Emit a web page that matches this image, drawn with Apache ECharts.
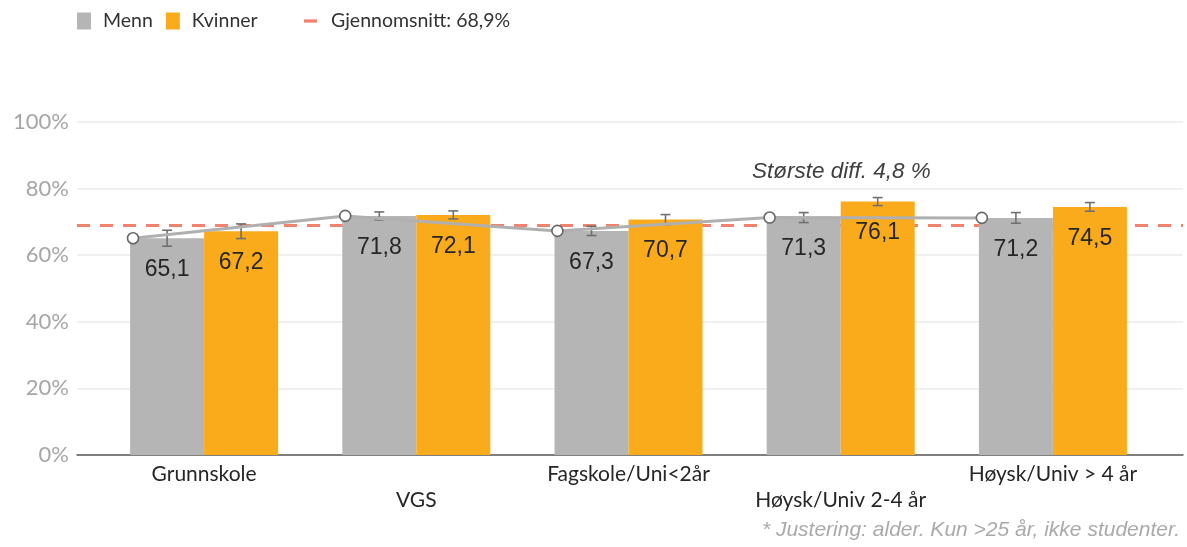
<!DOCTYPE html>
<html>
<head>
<meta charset="utf-8">
<script src="https://cdn.jsdelivr.net/npm/echarts@6/dist/echarts.min.js"></script>
<style>
  html, body { margin: 0; padding: 0; background: #fff; }
  #chart { width: 1187px; height: 547px; }
</style>
</head>
<body>
<div id="chart"></div>
<script>
(function() {
  var categories = ['Grunnskole', 'VGS', 'Fagskole/Uni<2år', 'Høysk/Univ 2-4 år', 'Høysk/Univ > 4 år'];
  var menn = [65.1, 71.8, 67.3, 71.3, 71.2];
  var kvinner = [67.2, 72.1, 70.7, 76.1, 74.5];
  var mennErr = [2.4, 1.2, 1.4, 1.5, 1.6];
  var kvinnerErr = [2.2, 1.2, 1.5, 1.2, 1.3];
  var snitt = 68.9;
  var yTicks = [0, 20, 40, 60, 80, 100];

  var grey = '#b5b5b5';
  var orange = '#faab1c';
  var salmon = '#f0826e';
  var ink = '#262626';
  var muted = '#a6a6a6';
  var barW = 74;
  var lineOffset = -0.335;

  function fmt(v) { return String(v).replace('.', ','); }

  function errData(vals, errs) {
    return vals.map(function(v, i) { return [i, v - errs[i], v + errs[i]]; });
  }

  function errRender(shift) {
    return function(params, api) {
      var hi = api.coord([api.value(0), api.value(2)]);
      var lo = api.coord([api.value(0), api.value(1)]);
      var x = hi[0] + shift;
      var st = { stroke: '#707070', lineWidth: 1.6 };
      return {
        type: 'group',
        children: [
          { type: 'line', shape: { x1: x, y1: hi[1], x2: x, y2: lo[1] }, style: st },
          { type: 'line', shape: { x1: x - 5, y1: hi[1], x2: x + 5, y2: hi[1] }, style: st },
          { type: 'line', shape: { x1: x - 5, y1: lo[1], x2: x + 5, y2: lo[1] }, style: st }
        ]
      };
    };
  }

  var barLabel = {
    show: true, position: 'insideTop', distance: 20,
    fontFamily: 'Liberation Sans', fontSize: 23, color: ink,
    formatter: function(p) { return fmt(p.value); }
  };

  var chart = echarts.init(document.getElementById('chart'), null, { renderer: 'canvas' });
  chart.setOption({
    animation: false,
    legend: [
      {
        data: ['Menn', 'Kvinner'],
        left: 72, top: 6,
        icon: 'rect', itemWidth: 14, itemHeight: 17, itemGap: 13,
        textStyle: { fontFamily: 'Lato', fontSize: 19.5, color: '#333', padding: [0, 0, 0, 7] }
      },
      {
        data: [{ name: 'Gjennomsnitt: 68,9%', icon: 'path://M0,0H12V3H0Z' }],
        left: 299, top: 6,
        itemWidth: 13, itemHeight: 17,
        textStyle: { fontFamily: 'Lato', fontSize: 19.5, color: '#333', padding: [0, 0, 0, 9] }
      }
    ],
    grid: [
      { left: 77, right: 4, top: 122, bottom: 92 },
      { left: 98, right: 28, top: 122, bottom: 92 }
    ],
    xAxis: [
      {
        gridIndex: 0, type: 'value', min: 0, max: 1,
        axisLine: { show: true, onZero: false, lineStyle: { color: '#595959', width: 1.5 } },
        axisTick: { show: false }, axisLabel: { show: false }, splitLine: { show: false }
      },
      {
        gridIndex: 1, type: 'category', data: categories,
        axisLine: { show: false }, axisTick: { show: false },
        axisLabel: {
          interval: 0, margin: 6,
          fontFamily: 'Lato', fontSize: 21, color: ink, lineHeight: 26,
          formatter: function(v, i) { return i % 2 ? '\n' + v : v; }
        }
      },
      {
        gridIndex: 1, type: 'value', min: -0.5, max: 4.5, show: false
      }
    ],
    yAxis: [
      {
        gridIndex: 0, type: 'value', min: yTicks[0], max: yTicks[yTicks.length - 1], interval: 20,
        axisLine: { show: false }, axisTick: { show: false },
        axisLabel: { fontFamily: 'Lato', fontSize: 22, color: muted, margin: 8, formatter: '{value}%' },
        splitLine: { lineStyle: { color: '#ebebeb', width: 1.5 } }
      },
      {
        gridIndex: 1, type: 'value', min: 0, max: 100, show: false
      }
    ],
    series: [
      {
        name: 'Gjennomsnitt: 68,9%', type: 'line', xAxisIndex: 0, yAxisIndex: 0, z: 1,
        data: [[0, snitt], [1, snitt]],
        symbol: 'none', silent: true,
        itemStyle: { color: salmon },
        lineStyle: { color: salmon, width: 3, type: [13, 10] }
      },
      {
        name: 'Menn', type: 'bar', xAxisIndex: 1, yAxisIndex: 1, z: 3,
        data: menn, barWidth: barW, barGap: '0%',
        itemStyle: { color: grey }, label: barLabel
      },
      {
        name: 'Kvinner', type: 'bar', xAxisIndex: 1, yAxisIndex: 1, z: 3,
        data: kvinner, barWidth: barW, barGap: '0%',
        itemStyle: { color: orange }, label: barLabel
      },
      {
        name: 'errM', type: 'custom', xAxisIndex: 1, yAxisIndex: 1, z: 4,
        data: errData(menn, mennErr), renderItem: errRender(-barW / 2)
      },
      {
        name: 'errK', type: 'custom', xAxisIndex: 1, yAxisIndex: 1, z: 4,
        data: errData(kvinner, kvinnerErr), renderItem: errRender(barW / 2)
      },
      {
        name: 'Trend', type: 'line', xAxisIndex: 2, yAxisIndex: 1, z: 5,
        data: menn.map(function(v, i) { return [i + lineOffset, v]; }),
        lineStyle: { color: '#b0b0b0', width: 3 },
        symbol: 'circle', symbolSize: 11, showAllSymbol: true,
        itemStyle: { color: '#fff', borderColor: '#666', borderWidth: 1.6 }
      }
    ],
    graphic: [
      {
        type: 'text', left: 752, top: 160,
        style: { text: 'Største diff. 4,8 %', font: 'italic 22.5px "Liberation Sans"', fill: '#404040' }
      },
      {
        type: 'text', right: 7, top: 520,
        style: { text: '* Justering: alder. Kun >25 år, ikke studenter.', font: 'italic 21px "Liberation Sans"', fill: '#aaaaaa' }
      }
    ]
  });
  window.addEventListener('resize', function() { chart.resize(); });
})();
</script>
</body>
</html>
